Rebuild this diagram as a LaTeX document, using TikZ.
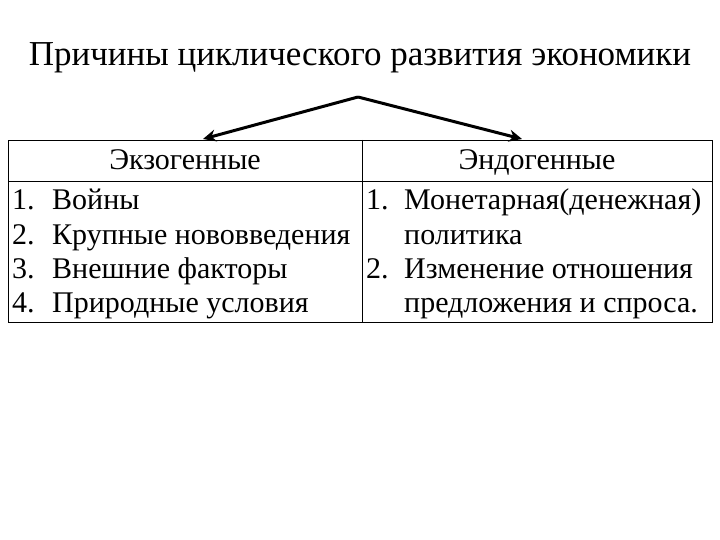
\documentclass[tikz,border=0pt]{standalone}
\usepackage{fontspec}
\usetikzlibrary{arrows.meta}
\setmainfont{Liberation Serif}
\begin{document}
\begin{tikzpicture}[x=1pt,y=-1pt,
  txt/.style={font=\fontsize{30}{34}\selectfont, inner sep=0pt},
  arr/.style={line width=3pt,-{Stealth[length=13pt,width=12pt]}}]
\useasboundingbox (0,0) rectangle (720,540);
\node[font=\fontsize{35}{40}\selectfont,anchor=base] (title) at (360,66) {Причины циклического развития экономики};
\coordinate (apex) at (358,97);
\coordinate (lt) at (203,139);
\coordinate (rt) at (522,139);
\draw[arr] (apex) -- (lt);
\draw[arr] (apex) -- (rt);
\draw[line width=0.8pt] (8,140) rectangle (712,322);
\draw[line width=0.8pt] (8,181) -- (712,181);
\draw[line width=0.8pt] (362,140) -- (362,322);
\node[txt,anchor=base] (h1) at (185,170) {Экзогенные};
\node[txt,anchor=base] (h2) at (537,170) {Эндогенные};
\foreach \n/\t [count=\i] in {1./Войны,2./Крупные нововведения,3./Внешние факторы,4./Природные условия}{
  \node[txt,anchor=base west] (ln\i) at (12,{210+(\i-1)*34}) {\n};
  \node[txt,anchor=base west] (lt\i) at (52,{210+(\i-1)*34}) {\t};
}
\node[txt,anchor=base west] (rn1) at (366,210) {1.};
\node[txt,anchor=base west] (rt1) at (404,210) {Монетарная(денежная)};
\node[txt,anchor=base west] (rt2) at (404,244) {политика};
\node[txt,anchor=base west] (rn2) at (366,278) {2.};
\node[txt,anchor=base west] (rt3) at (404,278) {Изменение отношения};
\node[txt,anchor=base west] (rt4) at (404,312) {предложения и спроса.};
\end{tikzpicture}
\end{document}
